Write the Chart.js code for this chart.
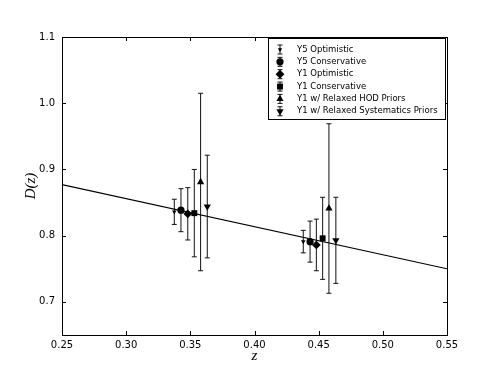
<!DOCTYPE html>
<html>
<head>
<meta charset="utf-8">
<script src="https://cdn.jsdelivr.net/npm/chart.js@4"></script>
<style>
html, body { margin: 0; padding: 0; background: #fff; }
#graphique { display: block; }
</style>
</head>
<body>
<canvas id="graphique" width="498" height="374"></canvas>
<script>
// Noms des series (ordre de la legende)
const labels = ["Y5 Optimistic", "Y5 Conservative", "Y1 Optimistic", "Y1 Conservative",
    "Y1 w/ Relaxed HOD Priors", "Y1 w/ Relaxed Systematics Priors"];

// redshift de chaque point (deux bins, legerement decales par serie)
const zY5Opt = [0.3375, 0.438];
const zY5Cons = [0.3427, 0.4433];
const zY1Opt = [0.348, 0.4482];
const zY1Cons = [0.3531, 0.4531];
const zY1Hod = [0.358, 0.458];
const zY1Sys = [0.3632, 0.4634];

// valeurs de D(z)
const dY5Opt = [0.836, 0.791];
const dY5Cons = [0.8385, 0.791];
const dY1Opt = [0.833, 0.786];
const dY1Cons = [0.834, 0.796];
const dY1Hod = [0.881, 0.841];
const dY1Sys = [0.844, 0.793];

// barres d'erreur (symetriques)
const errY5Opt = [0.019, 0.017];
const errY5Cons = [0.0325, 0.031];
const errY1Opt = [0.0395, 0.039];
const errY1Cons = [0.066, 0.062];
const errY1Hod = [0.134, 0.128];
const errY1Sys = [0.0775, 0.065];

// courbe theorique
const zTheorie = [0.25, 0.55];
const dTheorie = [0.877, 0.750];

// graduations
const xTicks = [0.25, 0.30, 0.35, 0.40, 0.45, 0.50, 0.55];
const yTicks = [0.7, 0.8, 0.9, 1.0, 1.1];

const zListe = [zY5Opt, zY5Cons, zY1Opt, zY1Cons, zY1Hod, zY1Sys];
const dListe = [dY5Opt, dY5Cons, dY1Opt, dY1Cons, dY1Hod, dY1Sys];
const errListe = [errY5Opt, errY5Cons, errY1Opt, errY1Cons, errY1Hod, errY1Sys];

// style des marqueurs
const marqueurs = [
    {style: "triangle", rot: 180, r: 2.6},
    {style: "circle", rot: 0, r: 3.6},
    {style: "rectRot", rot: 0, r: 4.4},
    {style: "rect", rot: 0, r: 4.2},
    {style: "triangle", rot: 0, r: 4.2},
    {style: "triangle", rot: 180, r: 4.2}
];

const datasets = labels.map((label, i) => ({
    type: "scatter",
    label: label,
    data: zListe[i].map((z, j) => ({x: z, y: dListe[i][j], err: errListe[i][j]})),
    pointStyle: marqueurs[i].style,
    rotation: marqueurs[i].rot,
    pointRadius: marqueurs[i].r,
    backgroundColor: "#000",
    borderColor: "#000",
    borderWidth: 0
}));

datasets.unshift({
    type: "line",
    label: "theorie",
    data: zTheorie.map((z, j) => ({x: z, y: dTheorie[j]})),
    borderColor: "#000",
    borderWidth: 1.2,
    pointRadius: 0,
    fill: false
});

// barres d'erreur, dessinees sous les marqueurs
const pluginErreurs = {
    id: "erreurs",
    beforeDatasetsDraw(chart) {
        const ctx = chart.ctx;
        const xs = chart.scales.x, ys = chart.scales.y;
        ctx.save();
        ctx.strokeStyle = "#111";
        ctx.lineWidth = 1;
        chart.data.datasets.forEach(ds => {
            if (ds.type !== "scatter") return;
            ds.data.forEach(p => {
                const x = xs.getPixelForValue(p.x);
                const y1 = ys.getPixelForValue(p.y + p.err);
                const y2 = ys.getPixelForValue(p.y - p.err);
                ctx.beginPath();
                ctx.moveTo(x, y1); ctx.lineTo(x, y2);
                ctx.moveTo(x - 2.5, y1); ctx.lineTo(x + 2.5, y1);
                ctx.moveTo(x - 2.5, y2); ctx.lineTo(x + 2.5, y2);
                ctx.stroke();
            });
        });
        ctx.restore();
    }
};

// cadre, graduations interieures, titres des axes et legende
const pluginCadre = {
    id: "cadre",
    afterDraw(chart) {
        const ctx = chart.ctx;
        const a = chart.chartArea;
        const xs = chart.scales.x, ys = chart.scales.y;
        ctx.save();
        ctx.strokeStyle = "#000";
        ctx.lineWidth = 1;
        ctx.strokeRect(Math.round(a.left) + 0.5, Math.round(a.top) + 0.5,
            Math.round(a.right - a.left), Math.round(a.bottom - a.top));
        ctx.beginPath();
        xTicks.forEach(v => {
            const x = Math.round(xs.getPixelForValue(v)) + 0.5;
            ctx.moveTo(x, a.bottom); ctx.lineTo(x, a.bottom - 4);
            ctx.moveTo(x, a.top); ctx.lineTo(x, a.top + 4);
        });
        yTicks.forEach(v => {
            const y = Math.round(ys.getPixelForValue(v)) + 0.5;
            ctx.moveTo(a.left, y); ctx.lineTo(a.left + 4, y);
            ctx.moveTo(a.right, y); ctx.lineTo(a.right - 4, y);
        });
        ctx.stroke();

        // titres des axes
        ctx.fillStyle = "#000";
        ctx.font = "italic 15px 'Liberation Serif'";
        ctx.textAlign = "center";
        ctx.textBaseline = "middle";
        ctx.fillText("z", (a.left + a.right) / 2, 356);
        ctx.translate(31, (a.top + a.bottom) / 2);
        ctx.rotate(-Math.PI / 2);
        ctx.fillText("D(z)", 0, 0);
        ctx.restore();

        // legende
        ctx.save();
        const bx = 268.5, by = 38.5, bw = 177, bh = 81;
        ctx.fillStyle = "#fff";
        ctx.fillRect(bx, by, bw, bh);
        ctx.strokeStyle = "#000";
        ctx.lineWidth = 1;
        ctx.strokeRect(bx, by, bw, bh);
        ctx.font = "8.5px 'DejaVu Sans'";
        ctx.textBaseline = "middle";
        ctx.textAlign = "left";
        labels.forEach((label, i) => {
            const y = 49.5 + i * 12.35;
            const x = 280;
            ctx.strokeStyle = "#111";
            ctx.beginPath();
            ctx.moveTo(x, y - 4.5); ctx.lineTo(x, y + 4.5);
            ctx.moveTo(x - 2.5, y - 4.5); ctx.lineTo(x + 2.5, y - 4.5);
            ctx.moveTo(x - 2.5, y + 4.5); ctx.lineTo(x + 2.5, y + 4.5);
            ctx.stroke();
            ctx.fillStyle = "#000";
            Chart.helpers.drawPoint(ctx, {
                pointStyle: marqueurs[i].style,
                rotation: marqueurs[i].rot,
                radius: marqueurs[i].r,
                borderWidth: 0
            }, x, y);
            ctx.fillStyle = "#000";
            ctx.fillText(label, 297, y);
        });
        ctx.restore();
    }
};

const police = {family: "'DejaVu Sans'", size: 10};

new Chart(document.querySelector("#graphique"), {
    data: {datasets: datasets},
    options: {
        responsive: false,
        animation: false,
        devicePixelRatio: 1,
        layout: {padding: {left: 0, top: 37, right: 51, bottom: 0}},
        plugins: {legend: {display: false}, tooltip: {enabled: false}},
        scales: {
            x: {
                type: "linear",
                min: 0.25, max: 0.55,
                afterBuildTicks: s => { s.ticks = xTicks.map(v => ({value: v})); },
                afterFit: s => { s.height = 39; },
                ticks: {callback: v => v.toFixed(2), font: police, color: "#000", padding: 4, maxRotation: 0, autoSkip: false},
                grid: {display: false, drawTicks: false},
                border: {display: false}
            },
            y: {
                type: "linear",
                min: 0.65, max: 1.1,
                afterBuildTicks: s => { s.ticks = yTicks.map(v => ({value: v})); },
                afterFit: s => { s.width = 62; },
                ticks: {callback: v => v.toFixed(1), font: police, color: "#000", padding: 7, autoSkip: false},
                grid: {display: false, drawTicks: false},
                border: {display: false}
            }
        }
    },
    plugins: [pluginErreurs, pluginCadre]
});
</script>
</body>
</html>
